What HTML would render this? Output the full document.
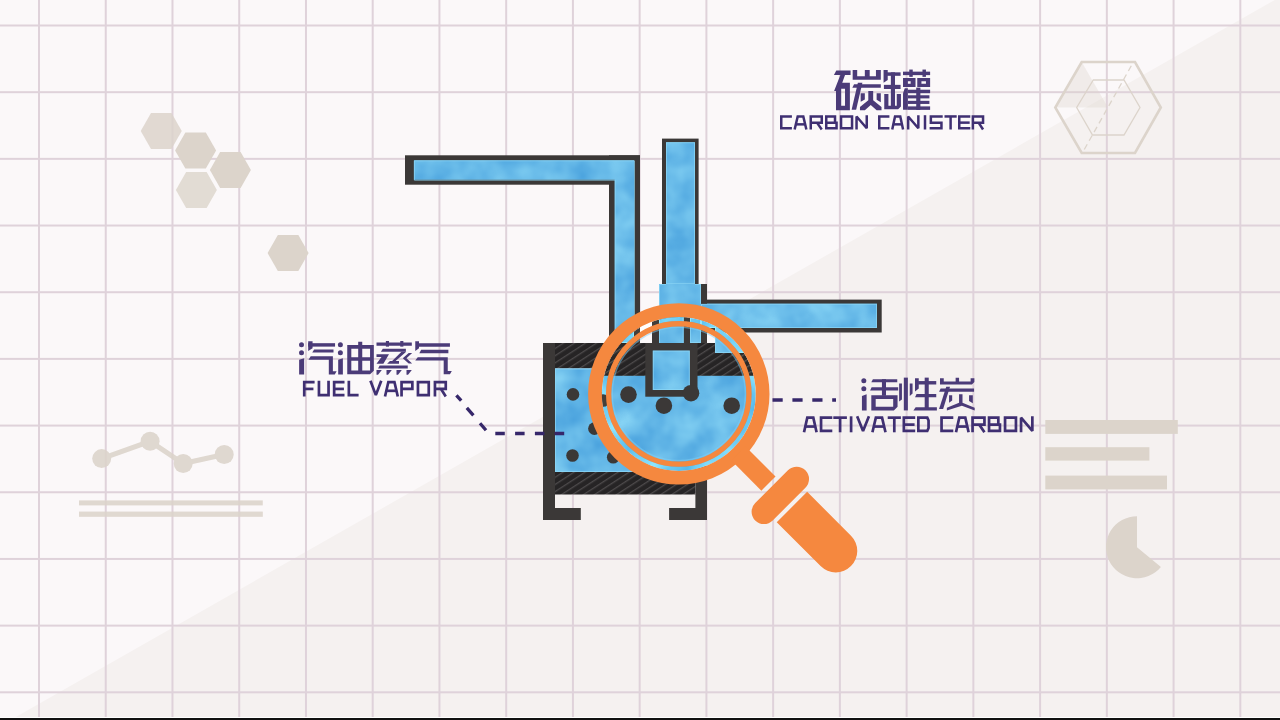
<!DOCTYPE html><html><head><meta charset="utf-8"><style>html,body{margin:0;padding:0;width:1280px;height:720px;overflow:hidden;background:#fbf8f9}svg{display:block}</style></head><body>
<svg width="1280" height="720" viewBox="0 0 1280 720">
<defs>
<filter id="cloud" color-interpolation-filters="sRGB" x="0" y="0" width="1280" height="720" filterUnits="userSpaceOnUse"><feTurbulence type="fractalNoise" baseFrequency="0.03" numOctaves="3" seed="11" result="n"/><feColorMatrix in="n" type="matrix" values="0.320 0 0 0 0.240  0.260 0 0 0 0.595  0.120 0 0 0 0.850  0 0 0 0 1" result="c"/><feComposite in="c" in2="SourceAlpha" operator="in"/></filter>
<pattern id="hatch" patternUnits="userSpaceOnUse" width="6" height="6" patternTransform="rotate(-33)"><rect width="6" height="6" fill="#262425"/><rect y="0" width="6" height="1.3" fill="#4d4a4b"/></pattern>
<clipPath id="lens"><circle cx="678.8" cy="393.9" r="77"/></clipPath>
<clipPath id="outside"><path d="M0 0H1280V720H0Z M678.8 303.2 A90.7 90.7 0 1 0 678.81 303.2Z" clip-rule="evenodd"/></clipPath>
</defs>
<rect width="1280" height="720" fill="#fbf8f9"/>
<polygon points="0,726 1280,-3 1280,720 0,720" fill="#f5f1f0"/>
<rect x="38.00" y="0" width="2" height="720" fill="#dfd2da"/>
<rect x="104.74" y="0" width="2" height="720" fill="#dfd2da"/>
<rect x="171.48" y="0" width="2" height="720" fill="#dfd2da"/>
<rect x="238.22" y="0" width="2" height="720" fill="#dfd2da"/>
<rect x="304.96" y="0" width="2" height="720" fill="#dfd2da"/>
<rect x="371.70" y="0" width="2" height="720" fill="#dfd2da"/>
<rect x="438.44" y="0" width="2" height="720" fill="#dfd2da"/>
<rect x="505.18" y="0" width="2" height="720" fill="#dfd2da"/>
<rect x="571.92" y="0" width="2" height="720" fill="#dfd2da"/>
<rect x="638.66" y="0" width="2" height="720" fill="#dfd2da"/>
<rect x="705.40" y="0" width="2" height="720" fill="#dfd2da"/>
<rect x="772.14" y="0" width="2" height="720" fill="#dfd2da"/>
<rect x="838.88" y="0" width="2" height="720" fill="#dfd2da"/>
<rect x="905.62" y="0" width="2" height="720" fill="#dfd2da"/>
<rect x="972.36" y="0" width="2" height="720" fill="#dfd2da"/>
<rect x="1039.10" y="0" width="2" height="720" fill="#dfd2da"/>
<rect x="1105.84" y="0" width="2" height="720" fill="#dfd2da"/>
<rect x="1172.58" y="0" width="2" height="720" fill="#dfd2da"/>
<rect x="1239.32" y="0" width="2" height="720" fill="#dfd2da"/>
<rect x="0" y="24.50" width="1280" height="2" fill="#dfd2da"/>
<rect x="0" y="91.18" width="1280" height="2" fill="#dfd2da"/>
<rect x="0" y="157.86" width="1280" height="2" fill="#dfd2da"/>
<rect x="0" y="224.54" width="1280" height="2" fill="#dfd2da"/>
<rect x="0" y="291.22" width="1280" height="2" fill="#dfd2da"/>
<rect x="0" y="357.90" width="1280" height="2" fill="#dfd2da"/>
<rect x="0" y="424.58" width="1280" height="2" fill="#dfd2da"/>
<rect x="0" y="491.26" width="1280" height="2" fill="#dfd2da"/>
<rect x="0" y="557.94" width="1280" height="2" fill="#dfd2da"/>
<rect x="0" y="624.62" width="1280" height="2" fill="#dfd2da"/>
<rect x="0" y="691.30" width="1280" height="2" fill="#dfd2da"/>
<rect x="0" y="717" width="1280" height="1" fill="#ffffff"/><rect x="0" y="718" width="1280" height="2" fill="#111111"/>
<polygon points="140.75,130.90 151.00,112.90 171.50,112.90 181.75,130.90 171.50,148.90 151.00,148.90" fill="#dcd4cb" opacity="0.85"/>
<polygon points="175.10,150.60 185.35,132.60 205.85,132.60 216.10,150.60 205.85,168.60 185.35,168.60" fill="#dcd4cb" opacity="1.00"/>
<polygon points="209.90,170.00 220.15,152.00 240.65,152.00 250.90,170.00 240.65,188.00 220.15,188.00" fill="#dcd4cb" opacity="1.00"/>
<polygon points="175.90,190.00 186.15,172.00 206.65,172.00 216.90,190.00 206.65,208.00 186.15,208.00" fill="#dcd4cb" opacity="0.80"/>
<polygon points="267.60,253.10 277.85,235.10 298.35,235.10 308.60,253.10 298.35,271.10 277.85,271.10" fill="#dcd4cb" opacity="1.00"/>
<g opacity="0.88">
<polyline points="101.7,458.6 150.1,441.3 183.2,463.5 224.2,454.5" fill="none" stroke="#dcd4cb" stroke-width="5"/>
<circle cx="101.7" cy="458.6" r="9.5" fill="#dcd4cb"/>
<circle cx="150.1" cy="441.3" r="9.5" fill="#dcd4cb"/>
<circle cx="183.2" cy="463.5" r="9.5" fill="#dcd4cb"/>
<circle cx="224.2" cy="454.5" r="9.5" fill="#dcd4cb"/>
<rect x="79" y="500.4" width="183.8" height="5" fill="#dcd4cb"/>
<rect x="79" y="511.6" width="183.8" height="5.2" fill="#dcd4cb"/>
</g>
<rect x="1045.3" y="420" width="132.5" height="13.9" fill="#dcd4cb"/>
<rect x="1045.3" y="447.2" width="104.1" height="13.4" fill="#dcd4cb"/>
<rect x="1045.3" y="475.6" width="121.7" height="13.8" fill="#dcd4cb"/>
<path d="M1137.0 547.2 L1160.92 566.92 A31.0 31.0 0 1 1 1137.0 516.2 Z" fill="#dcd4cb"/>
<polygon points="1081.7,62 1135,62 1160.8,107.5 1135,153 1081.7,153 1055.3,107.5" fill="none" stroke="#dcd4cb" stroke-width="2.6"/>
<polygon points="1093.3,80 1124,80 1140,107.5 1124,135 1092.5,135 1076.7,107.5" fill="none" stroke="#dcd4cb" stroke-width="1.3"/>
<line x1="1131.3" y1="65.8" x2="1084" y2="150" stroke="#dcd4cb" stroke-width="1.3" stroke-dasharray="6 4"/>
<polygon points="1081.7,62 1108,107.5 1055.3,107.5" fill="#dcd4cb" opacity="0.35"/>
<g><rect x="405.00" y="155.30" width="235.00" height="29.40" fill="#3b3837"/><rect x="609.00" y="155.30" width="31.00" height="188.00" fill="#3b3837"/><path d="M413.9 160.3 H634 V343 H614.7 V179.7 H413.9 Z" fill="#62b6e8" filter="url(#cloud)"/><path d="M413.9 160.3 H634 V343 H614.7 V179.7 H413.9 Z" fill="none" stroke="#8fd8f6" stroke-opacity="0.7" stroke-width="1" transform="translate(0.5 0.5)"/><rect x="662.00" y="138.60" width="36.60" height="146.00" fill="#3b3837"/><rect x="666.00" y="142.20" width="29.00" height="142.00" fill="#62b6e8" filter="url(#cloud)"/><rect x="666.50" y="142.70" width="28.00" height="141.00" fill="none" stroke="#8fd8f6" stroke-opacity="0.7" stroke-width="1"/><rect x="701.00" y="299.60" width="180.70" height="32.90" fill="#3b3837"/><rect x="701.00" y="303.70" width="176.00" height="24.30" fill="#62b6e8" filter="url(#cloud)"/><rect x="701.50" y="304.20" width="175.00" height="23.30" fill="none" stroke="#8fd8f6" stroke-opacity="0.7" stroke-width="1"/><rect x="659.00" y="284.00" width="42.00" height="59.00" fill="#62b6e8" filter="url(#cloud)"/><rect x="701.00" y="284.00" width="6.00" height="19.70" fill="#3b3837"/><path d="M659.5 343 V284.5 H666 M695 284.5 H700.5 V303.7" fill="none" stroke="#8fd8f6" stroke-opacity="0.7" stroke-width="1"/><rect x="543.00" y="343.00" width="12.00" height="177.00" fill="#3b3837"/><rect x="695.40" y="343.00" width="11.60" height="177.00" fill="#3b3837"/><rect x="543.00" y="508.00" width="37.80" height="12.00" fill="#3b3837"/><rect x="669.10" y="508.00" width="37.90" height="12.00" fill="#3b3837"/><rect x="555.00" y="343.00" width="140.40" height="25.50" fill="url(#hatch)"/><rect x="555.00" y="368.50" width="140.40" height="103.50" fill="#62b6e8" filter="url(#cloud)"/><rect x="555.50" y="369.00" width="139.40" height="102.50" fill="none" stroke="#8fd8f6" stroke-opacity="0.7" stroke-width="1"/><rect x="555.00" y="472.00" width="140.40" height="22.50" fill="url(#hatch)"/><circle cx="573.0" cy="394.4" r="6.3" fill="#3b3837"/><circle cx="572.5" cy="455.5" r="6.3" fill="#3b3837"/><circle cx="594.4" cy="428.6" r="6.3" fill="#3b3837"/><circle cx="613.2" cy="457.2" r="6.3" fill="#3b3837"/><circle cx="602.8" cy="398.0" r="6.3" fill="#3b3837"/></g>
<path d="M456.4 395.3 L461.2 400.6 M466.8 407.9 L473.4 415.3 M480 423.2 L486 430.3" stroke="#36276a" stroke-width="3.3"/>
<path d="M495.3 433.6 H565" stroke="#36276a" stroke-width="3.5" stroke-dasharray="9.5 10.3"/>
<path d="M772.5 400.1 H836" stroke="#36276a" stroke-width="3.5" stroke-dasharray="10.2 9.7"/>
<g clip-path="url(#lens)"><rect x="590.00" y="300.00" width="180.00" height="190.00" fill="#ffffff"/><rect x="590.00" y="300.00" width="180.00" height="190.00" fill="#fbf8f9"/><rect x="590.00" y="375.00" width="180.00" height="120.00" fill="#62b6e8" filter="url(#cloud)"/><rect x="590.50" y="375.50" width="179.00" height="119.00" fill="none" stroke="#8fd8f6" stroke-opacity="0.7" stroke-width="1"/><rect x="609.00" y="300.00" width="31.00" height="43.00" fill="#3b3837"/><rect x="614.70" y="300.00" width="19.30" height="43.00" fill="#62b6e8" filter="url(#cloud)"/><rect x="615.20" y="300.50" width="18.30" height="42.00" fill="none" stroke="#8fd8f6" stroke-opacity="0.7" stroke-width="1"/><rect x="652.00" y="300.00" width="38.00" height="50.00" fill="#3b3837"/><rect x="659.00" y="300.00" width="24.70" height="50.00" fill="#62b6e8" filter="url(#cloud)"/><rect x="659.50" y="300.50" width="23.70" height="49.00" fill="none" stroke="#8fd8f6" stroke-opacity="0.7" stroke-width="1"/><rect x="690.00" y="300.00" width="11.00" height="43.00" fill="#62b6e8" filter="url(#cloud)"/><rect x="690.50" y="300.50" width="10.00" height="42.00" fill="none" stroke="#8fd8f6" stroke-opacity="0.7" stroke-width="1"/><rect x="701.00" y="328.00" width="6.00" height="15.00" fill="#3b3837"/><rect x="701.00" y="300.00" width="80.00" height="28.00" fill="#62b6e8" filter="url(#cloud)"/><rect x="701.50" y="300.50" width="79.00" height="27.00" fill="none" stroke="#8fd8f6" stroke-opacity="0.7" stroke-width="1"/><rect x="701.00" y="328.00" width="80.00" height="4.20" fill="#3b3837"/><rect x="715.00" y="300.00" width="30.00" height="53.00" fill="#62b6e8" filter="url(#cloud)"/><rect x="715.50" y="300.50" width="29.00" height="52.00" fill="none" stroke="#8fd8f6" stroke-opacity="0.7" stroke-width="1"/><rect x="590.00" y="343.00" width="125.00" height="32.80" fill="url(#hatch)"/><rect x="715.00" y="353.00" width="60.00" height="22.80" fill="url(#hatch)"/><rect x="645.30" y="343.00" width="52.20" height="53.70" fill="#3b3837"/><rect x="652.80" y="350.60" width="37.00" height="39.40" fill="#62b6e8" filter="url(#cloud)"/><rect x="653.30" y="351.10" width="36.00" height="38.40" fill="none" stroke="#8fd8f6" stroke-opacity="0.7" stroke-width="1"/><circle cx="628.5" cy="394.6" r="8.3" fill="#3b3837"/><circle cx="663.9" cy="405.7" r="8.3" fill="#3b3837"/><circle cx="691.0" cy="393.2" r="8.3" fill="#3b3837"/><circle cx="731.7" cy="405.7" r="8.3" fill="#3b3837"/><circle cx="603.2" cy="400.5" r="6.3" fill="#3b3837"/></g>
<circle cx="678.8" cy="393.9" r="74.9" fill="none" stroke="rgb(30,30,15)" stroke-width="4.2" style="mix-blend-mode:color-dodge"/>
<circle cx="678.8" cy="393.9" r="66.6" fill="none" stroke="#7fd0f5" stroke-opacity="0.5" stroke-width="1.6"/>
<circle cx="678.8" cy="393.9" r="83.85" fill="none" stroke="#f5883f" stroke-width="13.7"/>
<circle cx="678.8" cy="393.9" r="70.15" fill="none" stroke="#f5883f" stroke-width="5.3"/>
<g transform="translate(678.8 393.9) rotate(45)">
<rect x="84" y="-10" width="42.8" height="20" fill="#f5883f"/>
<rect x="131.2" y="-35.5" width="24.7" height="71" rx="12.35" fill="#f5883f"/>
<path d="M160 -21.5 H222 A21.5 21.5 0 0 1 222 21.5 H160 Z" fill="#f5883f"/>
</g>
<g fill="none" stroke="#3f2f72" stroke-width="2.50" stroke-linejoin="miter" stroke-miterlimit="2" stroke-linecap="butt"><polyline points="791.90,116.45 781.25,116.45 781.25,128.25 791.90,128.25"/><polyline points="794.62,129.50 797.70,116.45 803.30,116.45 806.38,129.50"/><polyline points="795.46,124.35 805.54,124.35"/><polyline points="810.75,129.50 810.75,116.45 821.75,116.45 821.75,122.64 810.75,122.64"/><polyline points="816.92,122.64 821.75,129.50"/><polyline points="826.25,122.64 835.01,122.64 835.01,116.45 826.25,116.45 826.25,128.25 836.55,128.25 836.55,122.64 835.01,122.64"/><polyline points="841.05,116.45 852.05,116.45 852.05,128.25 841.05,128.25 841.05,115.20"/><polyline points="856.55,129.50 856.55,116.45 866.75,128.25 866.75,115.20"/><polyline points="889.40,116.45 879.25,116.45 879.25,128.25 889.40,128.25"/><polyline points="892.23,129.50 895.03,116.45 900.27,116.45 903.08,129.50"/><polyline points="892.93,124.35 902.37,124.35"/><polyline points="908.15,129.50 908.15,116.45 918.35,128.25 918.35,115.20"/><polyline points="925.00,115.20 925.00,129.50"/><polyline points="942.70,116.45 930.85,116.45 930.85,122.64 941.45,122.64 941.45,128.25 929.60,128.25"/><polyline points="944.50,116.45 956.70,116.45"/><polyline points="950.60,116.45 950.60,129.50"/><polyline points="970.30,116.45 959.25,116.45 959.25,128.25 970.30,128.25"/><polyline points="959.25,122.64 969.68,122.64"/><polyline points="972.85,129.50 972.85,116.45 983.05,116.45 983.05,122.64 972.85,122.64"/><polyline points="978.59,122.64 983.05,129.50"/></g><g fill="none" stroke="#3f2f72" stroke-width="2.70" stroke-linejoin="miter" stroke-miterlimit="2" stroke-linecap="butt"><polyline points="314.60,382.05 304.25,382.05 304.25,396.50"/><polyline points="304.25,388.92 313.43,388.92"/><polyline points="318.95,380.70 318.95,395.15 328.55,395.15 328.55,380.70"/><polyline points="344.50,382.05 334.15,382.05 334.15,395.15 344.50,395.15"/><polyline points="334.15,388.92 343.92,388.92"/><polyline points="348.85,380.70 348.85,395.15 358.60,395.15"/><polyline points="370.45,380.70 375.85,395.15 381.25,380.70"/><polyline points="385.01,396.50 388.36,382.05 394.44,382.05 397.79,396.50"/><polyline points="385.93,390.81 396.87,390.81"/><polyline points="401.55,396.50 401.55,382.05 412.35,382.05 412.35,388.92 401.55,388.92"/><polyline points="417.95,382.05 428.75,382.05 428.75,395.15 417.95,395.15 417.95,380.70"/><polyline points="434.95,396.50 434.95,382.05 445.75,382.05 445.75,388.92 434.95,388.92"/><polyline points="441.03,388.92 445.75,396.50"/></g><g fill="none" stroke="#3f2f72" stroke-width="2.70" stroke-linejoin="miter" stroke-miterlimit="2" stroke-linecap="butt"><polyline points="804.01,432.30 807.30,417.65 813.30,417.65 816.58,432.30"/><polyline points="804.90,426.54 815.70,426.54"/><polyline points="832.30,417.65 821.05,417.65 821.05,430.95 832.30,430.95"/><polyline points="833.30,417.65 846.90,417.65"/><polyline points="840.10,417.65 840.10,432.30"/><polyline points="851.10,416.30 851.10,432.30"/><polyline points="857.15,416.30 863.05,430.95 868.95,416.30"/><polyline points="872.42,432.30 875.85,417.65 882.05,417.65 885.49,432.30"/><polyline points="873.37,426.54 884.53,426.54"/><polyline points="887.70,417.65 900.90,417.65"/><polyline points="894.30,417.65 894.30,432.30"/><polyline points="915.20,417.65 903.85,417.65 903.85,430.95 915.20,430.95"/><polyline points="903.85,424.62 914.57,424.62"/><polyline points="918.35,417.65 927.26,417.65 928.55,420.53 928.55,428.07 927.26,430.95 918.35,430.95 918.35,416.30"/><polyline points="953.30,417.65 941.55,417.65 941.55,430.95 953.30,430.95"/><polyline points="956.01,432.30 959.30,417.65 965.30,417.65 968.58,432.30"/><polyline points="956.90,426.54 967.70,426.54"/><polyline points="972.55,432.30 972.55,417.65 984.45,417.65 984.45,424.62 972.55,424.62"/><polyline points="979.23,424.62 984.45,432.30"/><polyline points="989.05,424.62 998.32,424.62 998.32,417.65 989.05,417.65 989.05,430.95 999.95,430.95 999.95,424.62 998.32,424.62"/><polyline points="1005.05,417.65 1015.95,417.65 1015.95,430.95 1005.05,430.95 1005.05,416.30"/><polyline points="1021.05,432.30 1021.05,417.65 1032.35,430.95 1032.35,416.30"/></g>
<g transform="translate(828 64) scale(0.06949)" fill="#4b3b78" fill-rule="evenodd"><path d="M85 160 L120 95 H325 V160 Z"/><path d="M178 160 H245 L205 270 H315 V665 H115 V390 H88 Z M190 355 V600 H245 V355 Z"/><path d="M355 85 H420 V175 H530 V85 H600 V175 H690 V85 H760 V225 H355 Z"/><path d="M350 340 L375 290 H760 V340 Z"/><path d="M430 270 H495 L405 660 H340 Z"/><path d="M470 420 H530 V510 L470 545 Z"/><path d="M700 420 H760 V550 L700 515 Z"/><path d="M580 390 H650 V520 L770 620 V665 L700 665 L615 590 L530 665 H460 V620 L580 520 Z"/></g><g transform="translate(878 64) scale(0.06949)" fill="#4b3b78" fill-rule="evenodd"><path d="M80 85 H140 V230 L80 270 Z"/><path d="M130 120 H325 V170 H130 Z"/><path d="M185 120 H245 V610 H185 Z"/><path d="M85 300 H325 V360 H85 Z"/><path d="M90 430 H150 V600 H270 V430 H330 V610 L290 650 H90 Z"/><path d="M360 110 H750 V160 H360 Z"/><path d="M450 80 H500 V185 H450 Z"/><path d="M640 80 H690 V185 H640 Z"/><path d="M360 200 H540 V330 H360 Z M430 250 V285 H470 V250 Z"/><path d="M565 200 H750 V330 H565 Z M625 250 V285 H690 V250 Z"/><path d="M385 350 H430 V660 H360 V420 Z"/><path d="M430 370 H750 V420 H430 Z"/><path d="M430 450 H740 V495 H430 Z"/><path d="M430 530 H740 V575 H430 Z"/><path d="M430 610 H750 V660 H430 Z"/><path d="M550 340 H610 V660 H550 Z"/></g><g transform="translate(296 336) scale(0.06250)" fill="#4b3b78" fill-rule="evenodd"><circle cx="88" cy="140" r="40"/><circle cx="88" cy="268" r="40"/><path d="M50 380 L130 355 V615 H50 Z"/><path d="M195 85 H265 V195 L195 240 Z"/><path d="M195 115 H625 V170 H195 Z"/><path d="M290 215 H600 V265 H260 Z"/><path d="M235 325 H590 V565 H650 L620 615 H525 V380 H200 Z"/><circle cx="710" cy="140" r="40"/><circle cx="710" cy="268" r="40"/><path d="M675 380 L750 355 V615 H675 Z"/><path d="M820 145 H995 V90 H1060 V145 H1245 V555 L1185 610 H820 Z M885 205 V340 H995 V205 Z M1060 205 V340 H1185 V205 Z M885 395 V550 H995 V395 Z M1060 395 V550 H1185 V395 Z"/></g><g transform="translate(374 336) scale(0.06250)" fill="#4b3b78" fill-rule="evenodd"><path d="M40 105 H605 V155 H40 Z"/><path d="M190 80 H240 V170 H190 Z"/><path d="M420 80 H470 V170 H420 Z"/><path d="M140 205 H510 V250 H110 Z"/><path d="M40 290 H240 L150 445 H40 L120 335 H40 Z"/><path d="M440 250 H515 L345 400 H400 V445 H210 L255 400 H290 Z"/><path d="M555 270 H610 L520 355 L610 440 H555 L460 355 Z"/><path d="M90 470 H540 V520 H65 Z"/><path d="M40 545 H125 L65 620 H40 Z"/><path d="M200 545 H285 L225 620 H200 Z"/><path d="M360 545 H445 L385 620 H360 Z"/><path d="M520 545 H605 L545 620 H520 Z"/><path d="M660 85 H720 V195 L660 240 Z"/><path d="M700 115 H1215 V170 H700 Z"/><path d="M755 220 H1190 V275 H725 Z"/><path d="M700 340 H1180 V560 H1245 L1215 610 H1115 V390 H660 Z"/></g><g transform="translate(856 372) scale(0.06250)" fill="#4b3b78" fill-rule="evenodd"><circle cx="125" cy="140" r="40"/><circle cx="125" cy="268" r="40"/><path d="M95 385 L170 355 V615 H95 Z"/><path d="M270 115 H660 V165 H245 Z"/><path d="M415 115 H480 V380 H415 Z"/><path d="M250 245 H675 V295 H225 Z"/><path d="M245 370 H665 V555 L605 615 H245 Z M315 430 V555 H595 V430 Z"/><path d="M690 185 H735 V440 L690 470 Z"/><path d="M765 90 H830 V615 H765 Z"/><path d="M860 185 H905 V345 L860 385 Z"/></g><g transform="translate(900 372) scale(0.06250)" fill="#4b3b78" fill-rule="evenodd"><path d="M240 100 H300 V265 L240 310 Z"/><path d="M290 145 H580 V200 H290 Z"/><path d="M395 90 H460 V590 H395 Z"/><path d="M265 350 H580 V405 H240 Z"/><path d="M250 565 H590 V615 H215 Z"/><path d="M640 100 H700 V150 H890 V90 H945 V150 H1130 V100 H1190 V160 L1150 200 H640 Z"/><path d="M650 265 H1185 V315 H625 Z"/><path d="M740 235 H800 L690 590 H625 Z"/><path d="M785 370 H835 V455 L785 490 Z"/><path d="M1105 370 H1165 V500 L1105 465 Z"/><path d="M945 355 H1000 V490 L1195 570 V615 L990 540 L750 615 V570 L945 490 Z"/></g>
</svg></body></html>
